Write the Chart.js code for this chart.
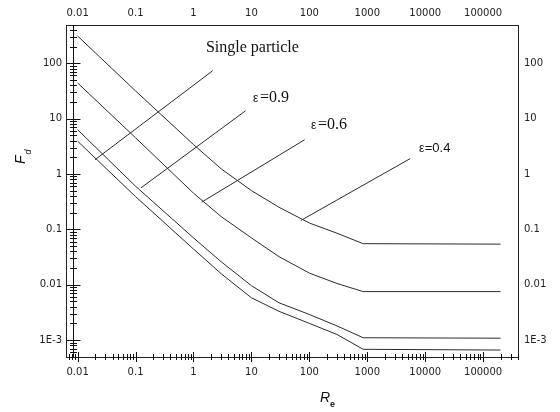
<!DOCTYPE html>
<html>
<head>
<meta charset="utf-8">
<script src="https://cdn.jsdelivr.net/npm/chart.js@4.4.1/dist/chart.umd.min.js"></script>
<style>
  html, body { margin: 0; padding: 0; background: #fff; }
</style>
</head>
<body>
<canvas id="fdChart" width="560" height="412"></canvas>
<script>
// Reynolds numbers shared by the four curves
const reValues = [0.01, 0.1, 1, 3, 10, 30, 100, 300, 850, 200000];
// Fd values
const fdEps04  = [310, 31.6, 3.4, 1.24, 0.50, 0.25, 0.13, 0.085, 0.055, 0.054];
const fdEps06  = [44, 4.5, 0.45, 0.17, 0.070, 0.032, 0.0162, 0.0105, 0.0075, 0.0075];
const fdEps09  = [6.3, 0.60, 0.070, 0.026, 0.0096, 0.0047, 0.0029, 0.0018, 0.0011, 0.00108];
const fdSingle = [3.9, 0.39, 0.044, 0.0158, 0.0058, 0.0033, 0.0020, 0.00126, 0.00068, 0.00066];

// leader lines from the labels to the curves (start, end)
const leaderRe = [[0.020, 2.14], [0.124, 7.9], [1.39, 83], [71, 5500]];
const leaderFd = [[1.81, 73], [0.56, 13.8], [0.31, 4.15], [0.144, 1.89]];

// curve labels, anchored at left/baseline
const labelTexts = ['Single particle', 'ε =0.9', 'ε =0.6', 'ε=0.4'];
const labelRe = [1.64, 10.7, 107, 7850];
const labelFd = [160, 19.7, 6.5, 2.52];
const labelFonts = ['16px "Liberation Serif"', '16px "Liberation Serif"', '16px "Liberation Serif"', '13px "Liberation Sans"'];

const xTickValues = [0.01, 0.1, 1, 10, 100, 1000, 10000, 100000];
const xTickLabels = ['0.01', '0.1', '1', '10', '100', '1000', '10000', '100000'];
const yTickValues = [0.001, 0.01, 0.1, 1, 10, 100];
const yTickLabels = ['1E-3', '0.01', '0.1', '1', '10', '100'];

const xMin = 0.0063, xMax = 400000;
const yMin = 0.000494, yMax = 490;

const lineColor = '#2b2b2b';
const tickFont = { family: 'DejaVu Sans', size: 10 };

function points(xs, ys) {
  return xs.map((v, i) => ({ x: v, y: ys[i] }));
}

const curveStyle = {
  showLine: true, borderColor: lineColor, borderWidth: 1,
  pointRadius: 0, tension: 0, fill: false
};

const datasets = [
  { label: 'ε=0.4', data: points(reValues, fdEps04), ...curveStyle },
  { label: 'ε=0.6', data: points(reValues, fdEps06), ...curveStyle },
  { label: 'ε=0.9', data: points(reValues, fdEps09), ...curveStyle },
  { label: 'Single particle', data: points(reValues, fdSingle), ...curveStyle }
];
leaderRe.forEach((re, i) => {
  datasets.push({ label: 'leader' + i, data: points(re, leaderFd[i]), ...curveStyle });
});

function logAxis(pos, min, max, values, labels, size, pad) {
  const horizontal = pos === 'top' || pos === 'bottom';
  return {
    type: 'logarithmic',
    position: pos,
    min: min,
    max: max,
    afterBuildTicks: s => { s.ticks = values.map(v => ({ value: v })); },
    afterFit: s => { if (horizontal) s.height = size; else s.width = size; },
    grid: { display: false, drawTicks: false },
    border: { display: true, color: '#222', width: 1 },
    ticks: {
      font: tickFont, color: '#222', padding: pad,
      maxRotation: 0, autoSkip: false,
      callback: (v, i) => labels[i]
    }
  };
}

// inner axis with crossing tick marks, titles and curve labels
const decorPlugin = {
  id: 'decor',
  afterDraw(chart) {
    const { ctx, chartArea: a, scales } = chart;
    const xs = scales.x, ys = scales.y;
    ctx.save();
    ctx.strokeStyle = '#111';
    ctx.lineWidth = 1;
    ctx.beginPath();
    const ax = Math.round(a.left + 7) + 0.5;
    ctx.moveTo(ax, a.top);
    ctx.lineTo(ax, a.bottom);
    for (let e = -4; e <= 3; e++) {
      for (let m = 1; m <= 9; m++) {
        const v = m * Math.pow(10, e);
        if (v < yMin || v > yMax) continue;
        const py = Math.round(ys.getPixelForValue(v)) + 0.5;
        const h = m === 1 ? 7 : 3.5;
        ctx.moveTo(ax - h, py);
        ctx.lineTo(ax + h, py);
      }
    }
    const ay = Math.round(a.bottom);
    for (let e = -3; e <= 5; e++) {
      for (let m = 1; m <= 9; m++) {
        const v = m * Math.pow(10, e);
        if (v < xMin || v > xMax) continue;
        const px = Math.round(xs.getPixelForValue(v)) + 0.5;
        const h = m === 1 ? 5 : 3;
        ctx.moveTo(px, ay - h);
        ctx.lineTo(px, ay + h);
      }
    }
    ctx.stroke();

    // axis titles
    ctx.fillStyle = '#111';
    ctx.textAlign = 'left';
    ctx.textBaseline = 'alphabetic';
    ctx.font = 'italic 14px "Liberation Sans"';
    ctx.fillText('R', 320, 402);
    const rw = ctx.measureText('R').width;
    ctx.font = 'bold 9px "Liberation Sans"';
    ctx.fillText('e', 320 + rw, 407);

    ctx.save();
    ctx.translate(25, 164);
    ctx.rotate(-Math.PI / 2);
    ctx.font = 'italic 14px "Liberation Sans"';
    ctx.fillText('F', 0, 0);
    const fw = ctx.measureText('F').width;
    ctx.font = 'italic 9px "Liberation Sans"';
    ctx.fillText('d', fw + 1, 6);
    ctx.restore();

    // curve labels
    labelTexts.forEach((t, i) => {
      let px = xs.getPixelForValue(labelRe[i]);
      const py = ys.getPixelForValue(labelFd[i]);
      if (t.charAt(0) === 'ε') {
        ctx.font = '12px "Liberation Sans"';
        ctx.fillText('ε', px, py);
        px += ctx.measureText('ε').width + (t.charAt(1) === ' ' ? 1.5 : 0.3);
        t = t.slice(1).trim();
      }
      ctx.font = labelFonts[i];
      ctx.fillText(t, px, py);
    });
    ctx.restore();
  }
};

new Chart(document.getElementById('fdChart'), {
  type: 'scatter',
  data: { datasets: datasets },
  options: {
    responsive: false,
    animation: false,
    devicePixelRatio: 1,
    layout: { padding: 0 },
    plugins: { legend: { display: false }, tooltip: { enabled: false } },
    scales: {
      x: logAxis('bottom', xMin, xMax, xTickValues, xTickLabels, 55, 9),
      x2: logAxis('top', xMin, xMax, xTickValues, xTickLabels, 25, 6),
      y: logAxis('left', yMin, yMax, yTickValues, yTickLabels, 66, 4),
      y2: logAxis('right', yMin, yMax, yTickValues, yTickLabels, 42, 6)
    }
  },
  plugins: [decorPlugin]
});
</script>
</body>
</html>
